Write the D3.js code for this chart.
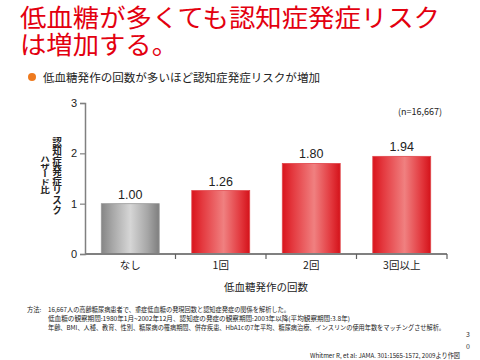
<!DOCTYPE html>
<html><head><meta charset="utf-8">
<script src="https://cdn.jsdelivr.net/npm/d3@7"></script>
<style>
html,body{margin:0;padding:0;background:#fff;}
svg{display:block;font-family:"Noto Sans CJK JP","Noto Sans",sans-serif;}
</style></head>
<body><svg id="c" width="480" height="360"></svg>
<script>
const categories = ["なし", "1回", "2回", "3回以上"];
const values = [1.00, 1.26, 1.80, 1.94];
const valueLabels = ["1.00", "1.26", "1.80", "1.94"];
const yTicks = [0, 1, 2, 3];
const titleLines = ["低血糖が多くても認知症発症リスク", "は増加する。"];
const subtitle = "低血糖発作の回数が多いほど認知症発症リスクが増加";
const yTitleLines = ["認知症発症リスク", "ハザード比"];
const xTitle = "低血糖発作の回数";
const nNote = "(n=16,667)";
const footHead = "方法:";
const footLines = [
  "16,667人の高齢糖尿病患者で、重症低血糖の発現回数と認知症発症の関係を解析した。",
  "低血糖の観察期間:1980年1月~2002年12月、認知症の発症の観察期間:2003年以降(平均観察期間:3.8年)",
  "年齢、BMI、人種、教育、性別、糖尿病の罹病期間、併存疾患、HbA1cの7年平均、糖尿病治療、インスリンの使用年数をマッチングさせ解析。"
];
const pageNum = ["3", "0"];
const citation = "Whitmer R, et al: JAMA. 301:1565-1572, 2009より作図";

const svg = d3.select("#c");
const defs = svg.append("defs");
function grad(id, stops) {
  const g = defs.append("linearGradient").attr("id", id).attr("x1", "0").attr("x2", "1").attr("y1", "0").attr("y2", "0");
  stops.forEach(s => g.append("stop").attr("offset", s[0]).attr("stop-color", s[1]));
}
grad("gGray", [[0, "#858585"], [0.2, "#a8a8a8"], [0.5, "#d6d6d6"], [0.8, "#a6a6a6"], [1, "#7e7e7e"]]);
grad("gRed", [[0, "#d9141c"], [0.18, "#e4393f"], [0.55, "#f08080"], [0.85, "#e2363c"], [1, "#d4121a"]]);

// Title
svg.append("g").selectAll("text").data(titleLines).join("text")
  .attr("x", 20).attr("y", (d, i) => 27 + i * 27)
  .attr("font-size", 24.5).attr("fill", "#e3000f")
  .attr("textLength", (d, i) => i === 0 ? 420 : 158)
  .attr("lengthAdjust", "spacingAndGlyphs")
  .text(d => d);

// Subtitle with bullet
svg.append("circle").attr("cx", 32).attr("cy", 77).attr("r", 4).attr("fill", "#ee7a1e");
svg.append("text").attr("x", 43).attr("y", 81.5).attr("font-size", 11.5).attr("fill", "#222")
  .attr("textLength", 277).attr("lengthAdjust", "spacingAndGlyphs").text(subtitle);

// Chart
const x = d3.scaleBand().domain(categories).range([85, 447]).paddingInner(0.36).paddingOuter(0.18);
const y = d3.scaleLinear().domain([0, 3]).range([254, 103]);

svg.append("g").selectAll("rect").data(values).join("rect")
  .attr("x", (d, i) => x(categories[i]))
  .attr("width", x.bandwidth())
  .attr("y", d => y(d))
  .attr("height", d => y(0) - y(d))
  .attr("fill", (d, i) => i === 0 ? "url(#gGray)" : "url(#gRed)")
  .attr("stroke", (d, i) => i === 0 ? "#9a9a9a" : "#e0474c")
  .attr("stroke-width", 0.8);

svg.append("g").selectAll("text").data(values).join("text")
  .attr("x", (d, i) => x(categories[i]) + x.bandwidth() / 2)
  .attr("y", d => y(d) - 5)
  .attr("text-anchor", "middle").attr("font-size", 12.5)
  .attr("font-family", "'Liberation Sans', Arial, sans-serif").attr("fill", "#222")
  .text((d, i) => valueLabels[i]);

// Y axis
const yAxis = svg.append("g").attr("transform", "translate(85,0)")
  .call(d3.axisLeft(y).tickValues(yTicks).tickFormat(d3.format("d")).tickSize(5).tickPadding(3));
yAxis.select(".domain").attr("stroke", "#808080").attr("stroke-width", 1.5);
yAxis.selectAll(".tick line").attr("stroke", "#808080").attr("stroke-width", 1.2);
yAxis.selectAll(".tick text").attr("font-size", 11).attr("fill", "#222")
  .attr("font-family", "'Liberation Sans', Arial, sans-serif");

// X axis with boundary ticks
const xg = svg.append("g").attr("transform", "translate(0,254)");
xg.append("line").attr("x1", 85).attr("x2", 447).attr("y1", 0).attr("y2", 0)
  .attr("stroke", "#808080").attr("stroke-width", 2);
const bounds = categories.map((c, i) => i === 0 ? null : x(c) - x.step() * x.paddingInner() / 2).filter(v => v !== null);
bounds.push(447);
xg.selectAll("line.b").data(bounds).join("line").attr("class", "b")
  .attr("x1", d => d).attr("x2", d => d).attr("y1", 0).attr("y2", 5)
  .attr("stroke", "#606060").attr("stroke-width", 1.2);
xg.selectAll("text").data(categories).join("text")
  .attr("x", d => x(d) + x.bandwidth() / 2).attr("y", 15)
  .attr("text-anchor", "middle").attr("font-size", 10.5).attr("fill", "#222")
  .text(d => d);

svg.append("text").attr("x", 266).attr("y", 291).attr("text-anchor", "middle")
  .attr("font-size", 10.5).attr("fill", "#222").text(xTitle);

// Y title in vertical writing mode
const yTitleCols = [{ x: 57, top: 137, len: 78 }, { x: 45, top: 155, len: 39 }];
svg.append("g").selectAll("text").data(yTitleLines).join("text")
  .attr("x", (d, i) => yTitleCols[i].x)
  .attr("y", (d, i) => yTitleCols[i].top)
  .style("writing-mode", "vertical-rl")
  .style("text-orientation", "upright")
  .attr("textLength", (d, i) => yTitleCols[i].len)
  .attr("lengthAdjust", "spacingAndGlyphs")
  .attr("font-size", 9.6).attr("font-weight", "bold").attr("fill", "#222")
  .text(d => d);

svg.append("text").attr("x", 442).attr("y", 115).attr("text-anchor", "end")
  .attr("font-size", 9).attr("fill", "#222").text(nNote);

// Footnote
svg.append("text").attr("x", 27).attr("y", 312).attr("font-size", 6.3).attr("fill", "#222").text(footHead);
const footEnds = [290, 350, 445];
svg.append("g").selectAll("text").data(footLines).join("text")
  .attr("x", 48).attr("y", (d, i) => 312 + i * 9)
  .attr("font-size", 6.3).attr("fill", "#222")
  .attr("textLength", (d, i) => footEnds[i] - 48).attr("lengthAdjust", "spacingAndGlyphs")
  .text(d => d);

svg.append("g").selectAll("text").data(pageNum).join("text")
  .attr("x", 468).attr("y", (d, i) => 337 + i * 12).attr("text-anchor", "middle")
  .attr("font-size", 7).attr("fill", "#333").text(d => d);

svg.append("text").attr("x", 310).attr("y", 358).attr("font-size", 6.3).attr("fill", "#222")
  .attr("textLength", 150).attr("lengthAdjust", "spacingAndGlyphs").text(citation);
</script></body></html>
